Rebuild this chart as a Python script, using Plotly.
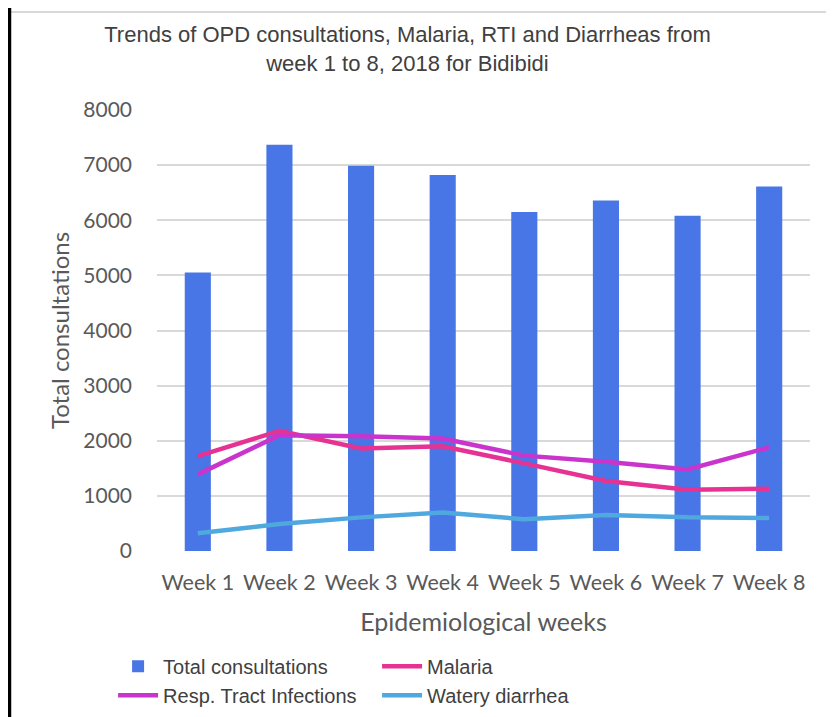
import plotly.graph_objects as go

weeks = ["Week 1", "Week 2", "Week 3", "Week 4", "Week 5", "Week 6", "Week 7", "Week 8"]
total_consultations = [5050, 7370, 6990, 6820, 6150, 6360, 6080, 6610]
malaria = [1720, 2180, 1860, 1900, 1590, 1270, 1110, 1130]
rti = [1390, 2100, 2080, 2040, 1730, 1620, 1480, 1880]
watery_diarrhea = [320, 490, 610, 700, 575, 655, 610, 600]

FONT = "Liberation Sans Narrow, Arial Narrow, Liberation Sans, Arial, sans-serif"
TICKFONT = "Lato, Calibri, Carlito, sans-serif"

fig = go.Figure()
fig.add_trace(go.Bar(x=weeks, y=total_consultations, name="Total consultations",
                     marker=dict(color="#4876E6", line=dict(width=0))))
fig.add_trace(go.Scatter(x=weeks, y=malaria, name="Malaria", mode="lines",
                         line=dict(color="#E53293", width=4.5)))
fig.add_trace(go.Scatter(x=weeks, y=rti, name="Resp. Tract Infections", mode="lines",
                         line=dict(color="#C934CD", width=4.5)))
fig.add_trace(go.Scatter(x=weeks, y=watery_diarrhea, name="Watery diarrhea", mode="lines",
                         line=dict(color="#4FA8DE", width=4.5)))

fig.update_layout(
    width=834, height=717,
    margin=dict(l=149, r=32, t=102, b=174, autoexpand=False),
    paper_bgcolor="white", plot_bgcolor="white",
    bargap=0.68,
    title=dict(text="Trends of OPD consultations, Malaria, RTI and Diarrheas from<br>week 1 to 8, 2018 for Bidibidi",
               x=0.479, xanchor="center", xref="container", y=0.952, yanchor="top", yref="container",
               font=dict(family=FONT, size=22, color="#404040")),
    xaxis=dict(showgrid=False, showline=False, ticks="", automargin=False, ticklabelstandoff=16,
               tickfont=dict(family=TICKFONT, size=21.5, color="#595959"),
               title=dict(text="Epidemiological weeks", font=dict(family=TICKFONT, size=25, color="#595959"), standoff=19)),
    yaxis=dict(range=[0, 8000], dtick=1000, showgrid=True, gridcolor="#D9D9D9", gridwidth=1.5,
               zeroline=False, showline=False, ticks="", ticklabelstandoff=24, automargin=False,
               tickfont=dict(family=TICKFONT, size=21, color="#595959"),
               title=dict(text="Total consultations", font=dict(family=TICKFONT, size=24, color="#595959"), standoff=6)),
    legend=dict(orientation="h", x=0.126, xanchor="left", xref="container", y=0.109, yanchor="top", yref="container",
                entrywidth=209, entrywidthmode="pixels", tracegroupgap=0,
                font=dict(family=FONT, size=20, color="#404040"), itemwidth=40),
    showlegend=True,
    shapes=[
        dict(type="line", xref="paper", yref="paper", x0=-0.2236, x1=1.06, y0=1.222, y1=1.222,
             line=dict(color="#D9D9D9", width=2)),
        dict(type="line", xref="paper", yref="paper", x0=-0.2259, x1=-0.2259, y0=1.26, y1=-0.40,
             line=dict(color="black", width=3.5)),
    ],
)

fig.write_html("out.html")
